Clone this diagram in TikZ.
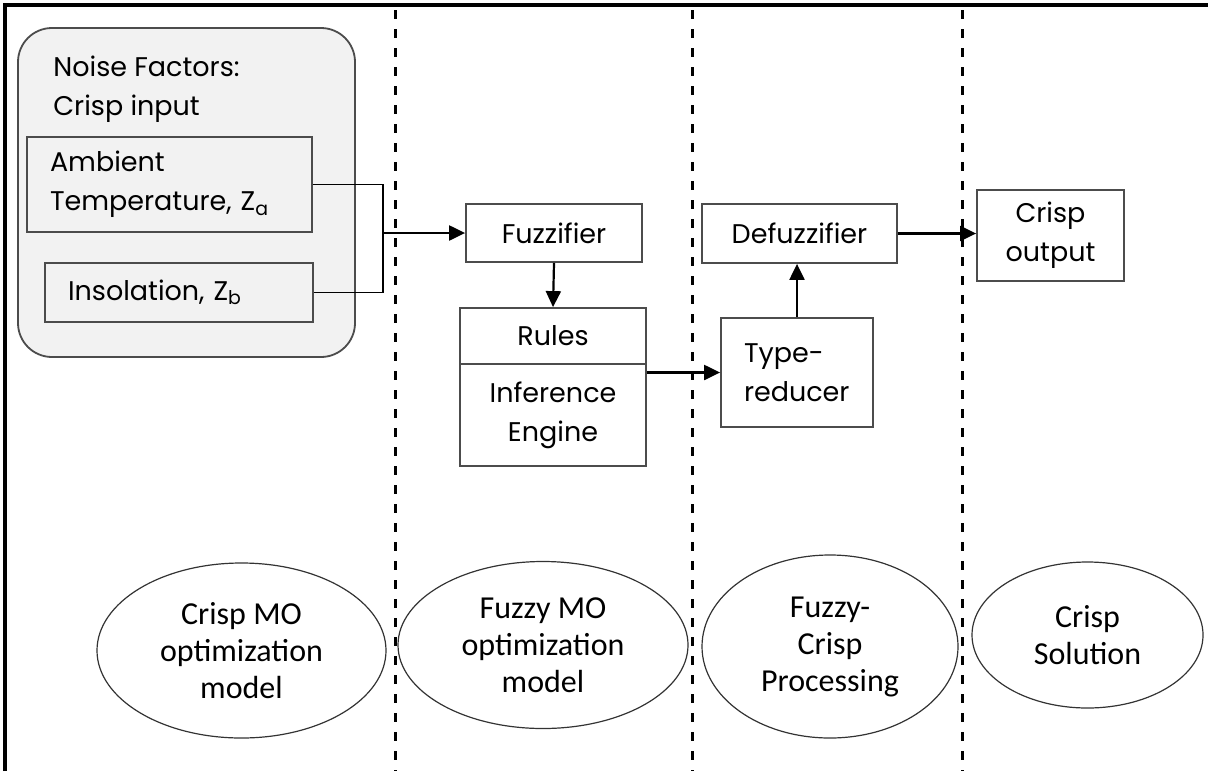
\documentclass[tikz,border=0pt]{standalone}
\usepackage{fontspec}
\setmainfont{Carlito}
\newfontfamily\boxfont{Poppins}
\usetikzlibrary{arrows.meta,shapes.geometric}
\tikzstyle{block}=[draw=black!70,line width=0.9pt,inner sep=0pt,font=\boxfont\fontsize{13.5}{19.5}\selectfont]
\tikzstyle{boxtext}=[inner sep=0pt,align=left,font=\boxfont\fontsize{13.5}{19.5}\selectfont]
\tikzstyle{stage}=[ellipse,draw=black!80,line width=0.6pt,inner sep=0pt,align=center,font=\fontsize{16}{18.5}\selectfont]
\tikzstyle{arr}=[-{Triangle[length=8pt,width=7.5pt]},line width=1.1pt]
\tikzstyle{divider}=[line width=1.5pt,dash pattern=on 4.5pt off 5pt]

\begin{document}
\begin{tikzpicture}[x=0.5pt,y=-0.5pt]
\useasboundingbox (0,0) rectangle (1208,771);

% frame and stage separators
\draw[line width=1.6pt] (5,771) -- (5,5) -- (1208,5);
\foreach \x in {395,692,962}
    \draw[divider] (\x,10) -- (\x,771);

% noise factors
\node[block,rounded corners=17pt,fill=black!5,minimum width=168.5pt,minimum height=164.5pt] (noise) at (186.5,192.5) {};
\node[boxtext,anchor=north west] (noisetxt) at (53,56) {Noise Factors:\\Crisp input};
\node[block,fill=black!5,align=left,inner xsep=11.5pt,text width=119.5pt,minimum height=47.5pt] (ambient) at (169.5,184.5) {Ambient\\Temperature, Z\textsubscript{a}};
\node[block,fill=black!5,align=left,inner xsep=11.5pt,text width=111pt,minimum height=29.5pt] (insol) at (179,292.5) {Insolation, Z\textsubscript{b}};

% fuzzy system
\node[block,minimum width=88pt,minimum height=29pt] (fuzz) at (554,233) {Fuzzifier};
\node[block,minimum width=93pt,minimum height=28pt] (rules) at (553,336) {Rules};
\node[block,align=center,minimum width=93pt,minimum height=51pt] (infer) at (553,415) {Inference\\Engine};
\node[block,align=left,inner xsep=11.5pt,text width=53pt,minimum height=54.5pt] (typer) at (797,372.5) {Type-\\reducer};
\node[block,minimum width=97.5pt,minimum height=29.5pt] (defuz) at (799.5,233.5) {Defuzzifier};
\node[block,align=center,minimum width=73.5pt,minimum height=45.5pt] (crispout) at (1050.5,235.5) {Crisp\\output};

% stages
\foreach \pos/\name/\w/\h/\txt in {{(241.5,650.5)/cmo/144.5pt/87.5pt/{Crisp MO\\optimization\\model}},
    {(543,645)/fmo/145pt/83.5pt/{Fuzzy MO\\optimization\\model}},
    {(830,646.5)/fcp/128pt/91.5pt/{Fuzzy-\\Crisp\\Processing}},
    {(1087.5,635)/csol/115.5pt/73pt/{Crisp\\Solution}}}
    \node[stage,minimum width=\w,minimum height=\h] (\name) at \pos {\txt};

% connectors
\coordinate (brk) at (383,233);
\draw[line width=0.9pt] (ambient.east) -| (brk) |- (insol.east);
\draw[arr] (brk) -- (fuzz.west);
\draw[arr] (fuzz.south) -- (rules.north);
\draw[arr] (typer.west -| infer.east) -- (typer.west);
\draw[arr] (typer.north) -- (typer.north |- defuz.south);
\draw[arr] (defuz.east) -- (defuz.east -| crispout.west);

\end{tikzpicture}
\end{document}
